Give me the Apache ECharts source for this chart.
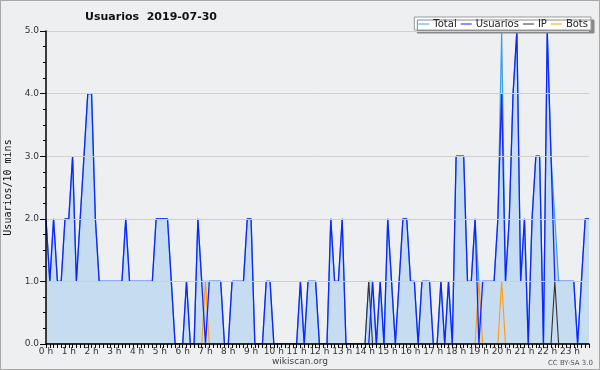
<!DOCTYPE html>
<html><head><meta charset="utf-8">
<script src="https://cdn.jsdelivr.net/npm/echarts@6/dist/echarts.min.js"></script>
<style>
html,body{margin:0;padding:0;background:#eeeff1;}
#c{width:598px;height:368px;border:1px solid #a8a8a8;background:#eeeff1;}
</style></head><body>
<div id="c"></div>
<script>
// 10-minute slots, 6 per hour
const hourLabels = ["0 h","1 h","2 h","3 h","4 h","5 h","6 h","7 h","8 h","9 h","10 h","11 h","12 h","13 h","14 h","15 h","16 h","17 h","18 h","19 h","20 h","21 h","22 h","23 h"];
const usuarios = [
 2,1,2,1,1,2, 2,3,1,2,3,4, 4,2,1,1,1,1, 1,1,1,2,1,1,
 1,1,1,1,1,2, 2,2,2,1,0,0, 0,1,0,0,2,1, 0,1,1,1,1,0,
 0,1,1,1,1,2, 2,0,0,0,1,1, 0,0,0,0,0,0, 0,1,0,1,1,1,
 0,0,0,2,1,1, 2,0,0,0,0,0, 0,0,1,0,1,0, 2,1,0,1,2,2,
 1,1,0,1,1,1, 0,0,1,0,1,0, 3,3,3,1,1,2, 0,1,1,1,1,2,
 4,1,2,4,5,1, 2,0,2,3,3,0, 5,3,1,1,1,1, 1,1,0,1,2,2
];
const total = [
 2,1,2,1,1,2, 2,3,1,2,3,4, 4,2,1,1,1,1, 1,1,1,2,1,1,
 1,1,1,1,1,2, 2,2,2,1,0,0, 0,1,0,0,2,1, 1,1,1,1,1,0,
 0,1,1,1,1,2, 2,0,0,0,1,1, 0,0,0,0,0,0, 0,1,0,1,1,1,
 0,0,0,2,1,1, 2,0,0,0,0,0, 0,1,1,0,1,0, 2,1,0,1,2,2,
 1,1,0,1,1,1, 0,0,1,0,1,0, 3,3,3,1,1,2, 1,1,1,1,1,2,
 5,1,2,4,5,1, 2,0,2,3,3,0, 5,3,2,1,1,1, 1,1,0,1,2,2
];
const ip = [
 0,0,0,0,0,0, 0,0,0,0,0,0, 0,0,0,0,0,0, 0,0,0,0,0,0,
 0,0,0,0,0,0, 0,0,0,0,0,0, 0,0,0,0,0,0, 0,0,0,0,0,0,
 0,0,0,0,0,0, 0,0,0,0,0,0, 0,0,0,0,0,0, 0,0,0,0,0,0,
 0,0,0,0,0,0, 0,0,0,0,0,0, 0,1,0,0,0,0, 0,0,0,0,0,0,
 0,0,0,0,0,0, 0,0,0,0,0,0, 0,0,0,0,0,0, 0,0,0,0,0,0,
 0,0,0,0,0,0, 0,0,0,0,0,0, 0,0,1,0,0,0, 0,0,0,0,0,0
];
const bots = [
 0,0,0,0,0,0, 0,0,0,0,0,0, 0,0,0,0,0,0, 0,0,0,0,0,0,
 0,0,0,0,0,0, 0,0,0,0,0,0, 0,0,0,0,0,0, 1,0,0,0,0,0,
 0,0,0,0,0,0, 0,0,0,0,0,0, 0,0,0,0,0,0, 0,0,0,0,0,0,
 0,0,0,0,0,0, 0,0,0,0,0,0, 0,0,0,0,0,0, 0,0,0,0,0,0,
 0,0,0,0,0,0, 0,0,0,0,0,0, 0,0,0,0,0,0, 1,0,0,0,0,0,
 1,0,0,0,0,0, 0,0,0,0,0,0, 0,0,0,0,0,0, 0,0,0,0,0,0
];
const yTicks = [0,1,2,3,4,5];

const categories = [];
hourLabels.forEach(h => { for (let k = 0; k < 6; k++) categories.push(k === 0 ? h : h + k); });

const chart = echarts.init(document.getElementById('c'), null, {renderer: 'canvas'});
const F = 'DejaVu Sans';
chart.setOption({
  animation: false,
  backgroundColor: '#eeeff1',
  title: {
    text: 'Usuarios  2019-07-30',
    left: 145, top: 6, textAlign: 'center',
    textStyle: {fontFamily: F, fontSize: 11, fontWeight: 'bold', color: '#111'}
  },
  legend: {
    right: 8, top: 16,
    data: ['Total','Usuarios','IP','Bots'],
    backgroundColor: '#ffffff',
    borderColor: '#999', borderWidth: 1,
    shadowColor: '#888', shadowOffsetX: 3, shadowOffsetY: 3, shadowBlur: 0.01,
    padding: [2, 3, 1, 4],
    itemGap: 4, itemWidth: 11, itemHeight: 1,
    icon: 'rect',
    textStyle: {fontFamily: F, fontSize: 10, color: '#222', padding: [0, 0, 0, -1]}
  },
  grid: {left: 45, right: 10, top: 30, bottom: 25, containLabel: false, outerBoundsMode: 'none'},
  xAxis: {
    type: 'category', data: categories, boundaryGap: false, z: 10,
    axisLine: {lineStyle: {color: '#000', width: 1.5}},
    axisTick: {interval: 0, length: 4, lineStyle: {color: '#000'}},
    axisLabel: {
      interval: 5, margin: 3, fontFamily: F, fontSize: 9, color: '#333',
      formatter: v => v.replace(/h\d$/, 'h')
    },
    splitLine: {show: false}
  },
  yAxis: {
    type: 'value', min: yTicks[0], max: yTicks[yTicks.length-1], interval: 1, z: 10,
    name: 'Usuarios/10 mins', nameLocation: 'middle', nameGap: 31,
    nameTextStyle: {fontFamily: 'DejaVu Sans Mono', fontSize: 10, color: '#111'},
    axisLine: {show: true, lineStyle: {color: '#000', width: 1.5}},
    axisTick: {show: true, length: 6, lineStyle: {color: '#000'}},
    minorTick: {show: true, splitNumber: 4, length: 3, lineStyle: {color: '#000'}},
    axisLabel: {margin: 7, fontFamily: F, fontSize: 9, color: '#333', formatter: v => v.toFixed(1)},
    splitLine: {show: true, lineStyle: {color: '#cfcfcf', width: 1}}
  },
  graphic: [
    {type: 'text', left: 'center', top: 356, style: {text: 'wikiscan.org', font: '9px "DejaVu Sans"', fill: '#444'}},
    {type: 'text', right: 6, top: 359, style: {text: 'CC BY-SA 3.0', font: '7px "DejaVu Sans"', fill: '#555'}}
  ],
  series: [
    {name: 'Total', type: 'line', data: total, symbol: 'none', z: 1,
     lineStyle: {color: '#3b9ff0', width: 1.2}, itemStyle: {color: '#3b9ff0'},
     areaStyle: {color: '#c6dcf0', opacity: 1}},
    {name: 'Usuarios', type: 'line', data: usuarios, symbol: 'none', z: 3,
     lineStyle: {color: '#1024ff', width: 1.3}, itemStyle: {color: '#1024ff'}},
    {name: 'IP', type: 'line', data: ip, symbol: 'none', z: 2,
     lineStyle: {color: '#333', width: 1.1}, itemStyle: {color: '#333'}},
    {name: 'Bots', type: 'line', data: bots, symbol: 'none', z: 2,
     lineStyle: {color: '#ff9a10', width: 1.1}, itemStyle: {color: '#ff9a10'}}
  ]
});
</script>
</body></html>
